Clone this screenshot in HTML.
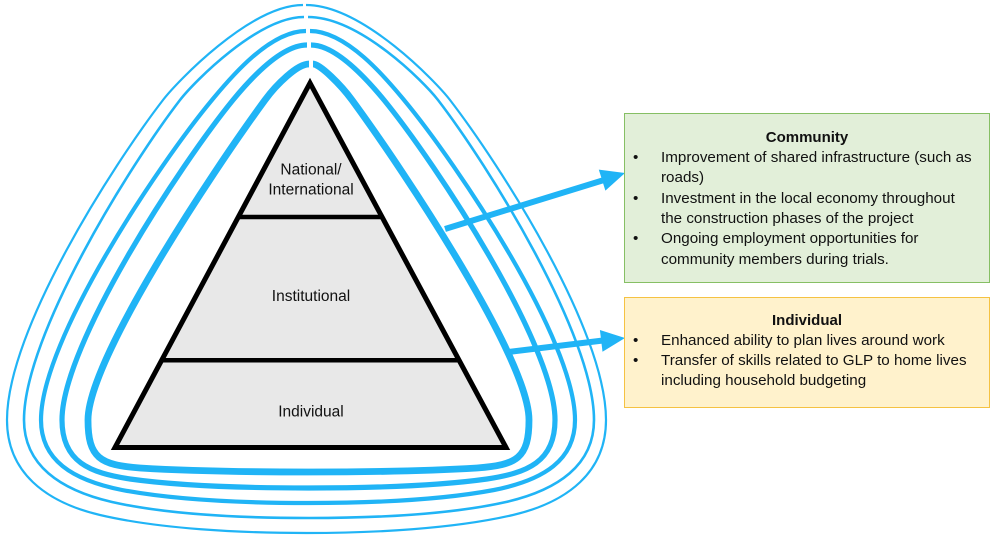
<!DOCTYPE html>
<html>
<head>
<meta charset="utf-8">
<style>
  html,body{margin:0;padding:0;background:#fff;}
  #wrap{position:relative;width:1000px;height:542px;overflow:hidden;background:#fff;
    font-family:"Liberation Sans",Arial,sans-serif;color:#111;}
  svg{position:absolute;left:0;top:0;}
  .box{position:absolute;box-sizing:border-box;}
  .ln{position:absolute;white-space:nowrap;font-size:15.2px;line-height:20px;height:20px;}
  .t{font-weight:bold;font-size:15px;text-align:center;}
</style>
</head>
<body>
<div id="wrap">
<svg width="1000" height="542" viewBox="0 0 1000 542">
  <g fill="none" stroke="#20b4f6" stroke-linecap="butt" stroke-linejoin="round">
    <!-- Ring 1 -->
    <path stroke-width="2.2" d="M303,5 C250,5 176,83 163,100 C113,165 7,330 7,420 C7,472 45,502 100,515 C160,529 240,533 306.5,533"/>
    <path stroke-width="2.2" d="M306.5,533 C373,533 453,529 513,515 C568,502 606,472 606,420 C606,330 500,165 450,100 C437,83 363,5 306,5"/>
    <!-- Ring 2 -->
    <path stroke-width="2.6" d="M304,17 C258,17 194,82 180,100 C130,165 24,335 24,420 C24,465 60,490 112,502 C170,515 245,518 309,518"/>
    <path stroke-width="2.6" d="M309,518 C373,518 448,515 506,502 C558,490 594,465 594,420 C594,335 488,165 438,100 C424,82 360,17 308,17"/>
    <!-- Ring 3 -->
    <path stroke-width="4.2" d="M306,31 C268,31 227,82 212,100 C158,165 41,340 41,420 C41,460 72,480 122,490 C175,500 245,503 308,503"/>
    <path stroke-width="4.2" d="M308,503 C371,503 441,500 494,490 C544,480 575,460 575,420 C575,340 458,165 404,100 C389,82 348,31 310,31"/>
    <!-- Ring 4 -->
    <path stroke-width="5.2" d="M307,45 C280,45 247,83 233,100 C180,165 62,345 62,420 C62,462 90,473 130,479 C180,486 245,488 308.5,488"/>
    <path stroke-width="5.2" d="M308.5,488 C372,488 437,486 487,479 C527,473 555,462 555,420 C555,345 437,165 384,100 C370,83 337,45 311,45"/>
    <!-- Ring 5 -->
    <path stroke-width="6.8" d="M309,64 C297,64 276,85 265,100 C210,175 88,360 88,420 C88,458 100,465 140,468 C190,471 250,472 308.5,472"/>
    <path stroke-width="6.8" d="M308.5,472 C367,472 427,471 477,468 C517,465 529,458 529,420 C529,360 407,175 352,100 C341,85 320,64 313,64"/>
  </g>

  <!-- Pyramid -->
  <polygon points="310,83 115,447.5 506,447.5" fill="#e8e8e8" stroke="#000" stroke-width="5" stroke-linejoin="miter" stroke-miterlimit="10"/>
  <line x1="238" y1="217" x2="382" y2="217" stroke="#000" stroke-width="4.5"/>
  <line x1="161.5" y1="360.3" x2="458.5" y2="360.3" stroke="#000" stroke-width="4.5"/>
  <g font-family="Liberation Sans, Arial, sans-serif" font-size="15.5" fill="#111" text-anchor="middle">
    <text x="311" y="174.5">National/</text>
    <text x="311" y="194.5">International</text>
    <text x="311" y="301">Institutional</text>
    <text x="311" y="416.5">Individual</text>
  </g>

  <!-- Arrows -->
  <g fill="#20b4f6" stroke="none">
    <line x1="445" y1="229" x2="604" y2="180" stroke="#20b4f6" stroke-width="6"/>
    <polygon points="625,173 598.8,169.6 605.4,190.6"/>
    <line x1="508" y1="352" x2="603" y2="340.5" stroke="#20b4f6" stroke-width="6"/>
    <polygon points="625,338 599.9,330 602.5,351.8"/>
  </g>
</svg>

<!-- Community box -->
<div class="box" style="left:624px;top:113px;width:366px;height:170px;background:#e2efd9;border:1.5px solid #86bf64;"></div>
<div class="ln t" style="left:624px;width:366px;top:127.7px;">Community</div>
<div class="ln" style="left:633px;top:148px;">•</div>
<div class="ln" style="left:661px;top:148px;">Improvement of shared infrastructure (such as</div>
<div class="ln" style="left:661px;top:168.3px;">roads)</div>
<div class="ln" style="left:633px;top:188.6px;">•</div>
<div class="ln" style="left:661px;top:188.6px;">Investment in the local economy throughout</div>
<div class="ln" style="left:661px;top:208.9px;">the construction phases of the project</div>
<div class="ln" style="left:633px;top:229.2px;">•</div>
<div class="ln" style="left:661px;top:229.2px;">Ongoing employment opportunities for</div>
<div class="ln" style="left:661px;top:249.5px;">community members during trials.</div>

<!-- Individual box -->
<div class="box" style="left:624px;top:297px;width:366px;height:111px;background:#fff2cc;border:1.5px solid #f5c242;"></div>
<div class="ln t" style="left:624px;width:366px;top:311.4px;">Individual</div>
<div class="ln" style="left:633px;top:331.4px;">•</div>
<div class="ln" style="left:661px;top:331.4px;">Enhanced ability to plan lives around work</div>
<div class="ln" style="left:633px;top:351.4px;">•</div>
<div class="ln" style="left:661px;top:351.4px;">Transfer of skills related to GLP to home lives</div>
<div class="ln" style="left:661px;top:371.4px;">including household budgeting</div>
</div>
</body>
</html>
